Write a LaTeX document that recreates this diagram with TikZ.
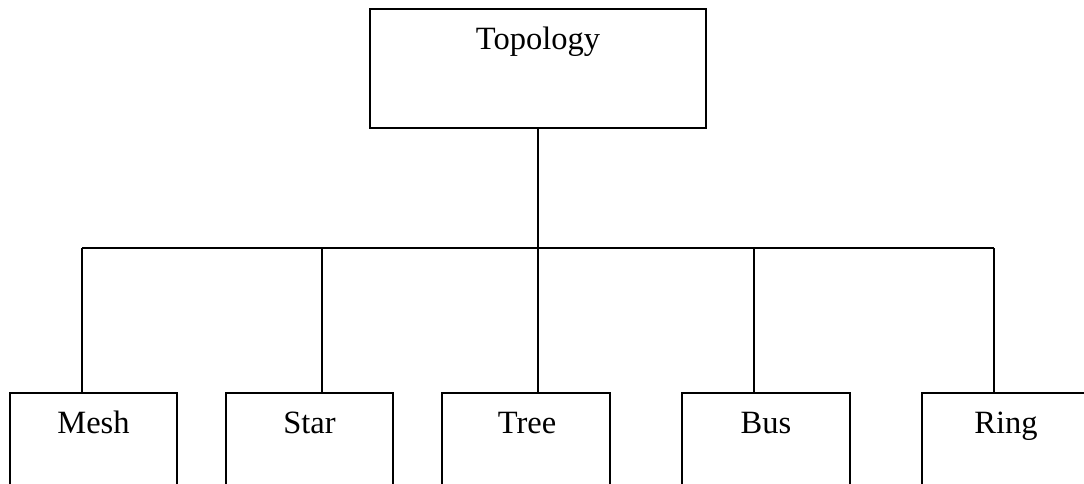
\documentclass[tikz,border=0pt]{standalone}
\usepackage{fontspec}
\setmainfont{Liberation Serif}
\begin{document}
\begin{tikzpicture}[x=1pt,y=1pt,line width=1.6pt,
  box/.style={draw,rectangle,anchor=north west,inner sep=0pt,outer sep=0pt,
              minimum width=167pt,minimum height=100pt},
  lbl/.style={font=\fontsize{32.5}{38}\selectfont,anchor=base,inner sep=0pt}]
\useasboundingbox (0,0) rectangle (1084,-483);
\clip (0,0) rectangle (1084,-483);
% root box
\node[box,minimum width=336pt,minimum height=119pt] (top) at (370,-9) {};
\node[lbl] (toptext) at (538,-49) {Topology};
% leaf boxes (bottom edges run off the page)
\node[box] (mesh) at (10,-393) {};
\node[box] (star) at (226,-393) {};
\node[box,minimum width=168pt] (tree) at (442,-393) {};
\node[box,minimum width=168pt] (bus)  at (682,-393) {};
\node[box,minimum width=168pt] (ring) at (922,-393) {};
\node[lbl] (meshtext) at (93.5,-433) {Mesh};
\node[lbl] (startext) at (309.5,-433) {Star};
\node[lbl] (treetext) at (527,-433) {Tree};
\node[lbl] (bustext)  at (766,-433) {Bus};
\node[lbl] (ringtext) at (1006,-433) {Ring};
% branch points on the distribution line
\coordinate (j1) at (82,-248);
\coordinate (j2) at (322,-248);
\coordinate (j3) at (538,-248);
\coordinate (j4) at (754,-248);
\coordinate (j5) at (994,-248);
% connectors
\draw (top.south) -- (top.south |- j3);
\draw (j1) -- (j5);
\draw (j1) -- (j1 |- mesh.north);
\draw (j2) -- (j2 |- star.north);
\draw (j3) -- (j3 |- tree.north);
\draw (j4) -- (j4 |- bus.north);
\draw (j5) -- (j5 |- ring.north);
\end{tikzpicture}
\end{document}
